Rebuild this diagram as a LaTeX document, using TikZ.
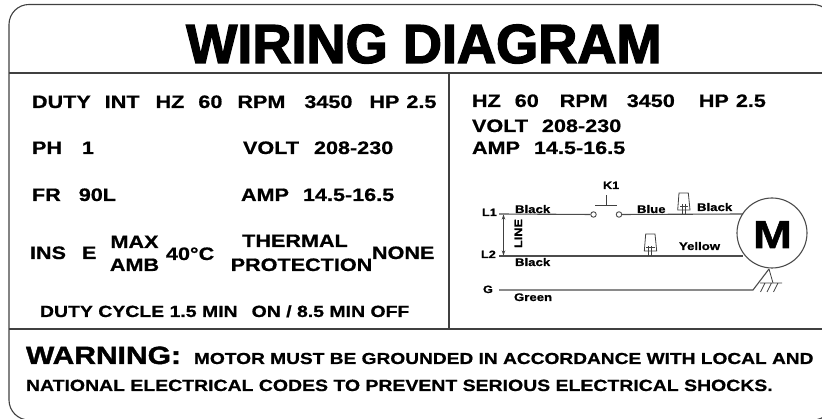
\documentclass[tikz,border=0pt]{standalone}
\usepackage{fontspec}
\usetikzlibrary{arrows.meta}
\newfontfamily\hvb{Liberation Sans Bold}[FakeStretch=1.2,FakeBold=0.8]
\newfontfamily\hvw{Liberation Sans Bold}[FakeStretch=1.2,FakeBold=1.5]
\newfontfamily\hvt{Liberation Sans Bold}[FakeStretch=0.985,FakeBold=2.5]
\newcommand{\fs}[1]{\fontsize{#1}{#1}\selectfont\hvb}
\newcommand{\gp}[1]{\hspace{#1pt}}
\tikzset{
  x=1pt,y=-1pt,
  lab/.style={anchor=base west,inner sep=0,outer sep=0,text=black,font=\fs{18}},
  cen/.style={anchor=base,inner sep=0,outer sep=0,text=black,font=\fs{18}},
  small/.style={anchor=base west,inner sep=0,outer sep=0,text=black,font=\fs{16.2}},
  tiny/.style={anchor=base west,inner sep=0,outer sep=0,text=black,font=\fs{11}},
  frameline/.style={draw=black!75,line width=1.1pt},
  wire/.style={draw=black!70,line width=1.1pt},
  thin wire/.style={draw=black!75,line width=0.8pt},
  contact/.style={draw=black!70,line width=0.9pt,circle,minimum size=5.5pt,inner sep=0,fill=white},
}
\begin{document}
\begin{tikzpicture}
\useasboundingbox (0,0) rectangle (822,419);
\begin{scope}
\clip (0,0) rectangle (822,419);
\draw[frameline,rounded corners=20pt] (9,4.5) rectangle (833,420);
\end{scope}
\coordinate (ta) at (9,73); \coordinate (tb) at (822,73);
\coordinate (ba) at (9,329); \coordinate (bb) at (822,329);
\coordinate (va) at (449,73); \coordinate (vb) at (449,329);
\draw[frameline] (ta)--(tb);
\draw[frameline] (ba)--(bb);
\draw[frameline] (va)--(vb);
\node[anchor=base west,inner sep=0,font=\fontsize{55}{55}\selectfont\hvt] (title) at (186,63) {WIRING DIAGRAM};
\node[lab] (a1) at (32,108) {DUTY\gp{14}INT\gp{16}HZ\gp{14}60\gp{15}RPM\gp{19}3450\gp{17}HP\gp{7}2.5};
\node[lab] (a2) at (32,154) {PH\gp{20}1};
\node[lab] (a3) at (243,154) {VOLT\gp{15}208-230};
\node[lab] (a4) at (32,201) {FR\gp{18}90L};
\node[lab] (a5) at (241,201) {AMP\gp{14}14.5-16.5};
\node[lab] (a6) at (30,259) {INS\gp{16}E};
\node[cen] (a7) at (134.5,248) {MAX};
\node[cen] (a8) at (134.5,271) {AMB};
\node[lab] (a9) at (166,260) {40°C};
\node[cen] (a10) at (295,247) {THERMAL};
\node[cen] (a11) at (301.5,271) {PROTECTION};
\node[lab] (a12) at (372,259) {NONE};
\node[small] (a13) at (40,317) {DUTY CYCLE 1.5 MIN\gp{14}ON / 8.5 MIN OFF};
\node[lab] (b1) at (472,107) {HZ\gp{14}60\gp{21}RPM\gp{19}3450\gp{24}HP\gp{7}2.5};
\node[lab] (b2) at (472,132) {VOLT\gp{14}208-230};
\node[lab] (b3) at (472,154) {AMP\gp{14}14.5-16.5};
\node[lab,font=\fontsize{25}{25}\selectfont\hvw] (w1) at (26,364) {WARNING:};
\node[small,font=\fs{15.95}] (w2) at (194,364) {MOTOR MUST BE GROUNDED IN ACCORDANCE WITH LOCAL AND};
\node[small] (w3) at (26,391) {NATIONAL ELECTRICAL CODES TO PREVENT SERIOUS ELECTRICAL SHOCKS.};
% schematic
\node[draw=black!70,line width=1.1pt,circle,minimum size=70pt,inner sep=0] (M) at (772,233) {};
\node[anchor=base,inner sep=0,font=\fontsize{39}{39}\selectfont\hvw] (Mt) at (772.5,248) {M};
\coordinate (l1) at (499,214); \coordinate (l2) at (499,256); \coordinate (g) at (499,290);
\coordinate (m1) at (743,214); \coordinate (m2) at (743,256);
\node[contact] (c1) at (593.5,214.5) {};
\node[contact] (c2) at (619,214.5) {};
\draw[wire] (l1)--(c1);
\draw[wire] (c2)--(m1);
\draw[wire] (l2)--(m2);
\coordinate (gk) at (753,290); \coordinate (mb) at (769,269);
\draw[wire] (g)--(gk)--(mb);
% K1
\coordinate (ka) at (595,205); \coordinate (kb) at (617,205); \coordinate (kc) at (606,205); \coordinate (kd) at (606,195);
\draw[thin wire] (ka)--(kb) (kc)--(kd);
% connectors
\draw[thin wire] (677.7,210)--(690,210)--(688.3,193)--(679,193)--cycle;
\draw[thin wire] (682.5,204)--(682.5,214) (685.5,204)--(685.5,214) (680,206.7)--(688,206.7);
\draw[thin wire] (644.3,251)--(656.7,251)--(655,234)--(645.7,234)--cycle;
\draw[thin wire] (648.7,246)--(648.7,256) (651.7,246)--(651.7,256) (646,247.5)--(654.5,247.5);
% line arrow
\draw[thin wire,<->,>={Stealth[length=5pt,width=3.5pt]}] (503.5,214.5)--(503.5,255.5);
% ground
\coordinate (ga) at (773,283);
\draw[thin wire] (mb)--(ga);
\draw[thin wire] (760,283)--(782,283) (765,283)--(760.5,292) (771.5,283)--(767,292) (778,283)--(773.5,292);
% labels
\node[tiny] (t1) at (515,213) {Black};
\node[tiny] (t2) at (515,266) {Black};
\node[tiny] (t3) at (514,301) {Green};
\node[tiny] (t4) at (637,213) {Blue};
\node[tiny] (t5) at (697,211) {Black};
\node[tiny] (t6) at (679,250) {Yellow};
\node[tiny,font=\fs{10.6}] (t7) at (482,216) {L1};
\node[tiny,font=\fs{10.6}] (t8) at (481,258) {L2};
\node[tiny,font=\fs{10.6}] (t9) at (483,293) {G};
\node[tiny,font=\fs{10.6}] (t10) at (603,189) {K1};
\node[anchor=base,inner sep=0,font=\fs{10.6},rotate=90] (t11) at (522,233.5) {LINE};
\end{tikzpicture}
\end{document}
